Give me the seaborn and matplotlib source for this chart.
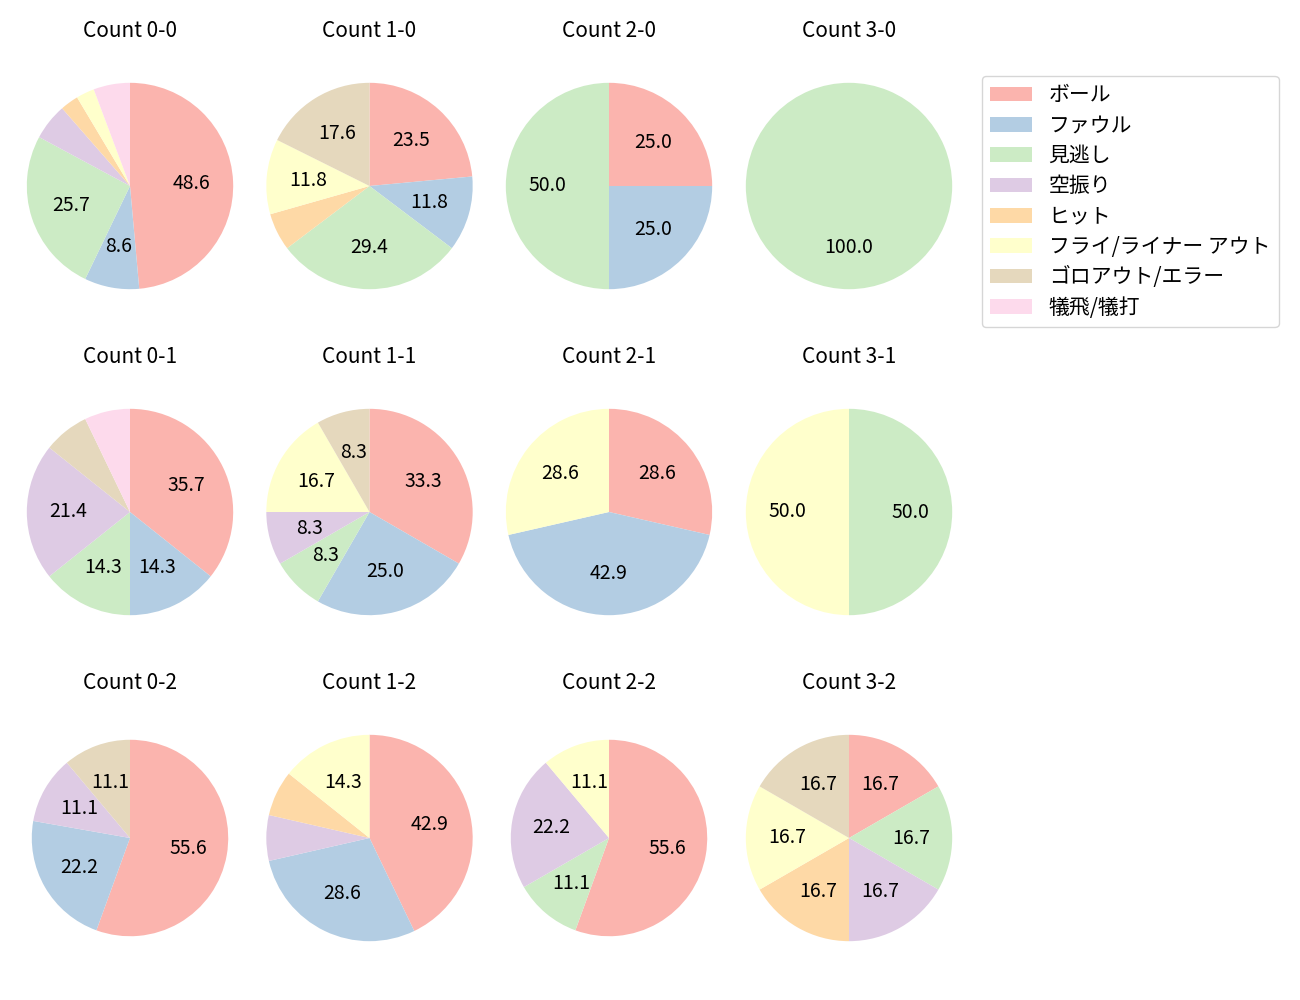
import matplotlib
matplotlib.use("Agg")
import matplotlib.pyplot as plt
from matplotlib.patches import Patch
import seaborn as sns
import numpy as np

categories = ["ボール", "ファウル", "見逃し", "空振り", "ヒット",
              "フライ/ライナー アウト", "ゴロアウト/エラー", "犠飛/犠打"]

titles = ["Count 0-0", "Count 1-0", "Count 2-0", "Count 3-0",
          "Count 0-1", "Count 1-1", "Count 2-1", "Count 3-1",
          "Count 0-2", "Count 1-2", "Count 2-2", "Count 3-2"]

# pitch counts per category (order = categories)
count_0_0 = [17, 3, 9, 2, 1, 1, 0, 2]
count_1_0 = [4, 2, 5, 0, 1, 2, 3, 0]
count_2_0 = [1, 1, 2, 0, 0, 0, 0, 0]
count_3_0 = [0, 0, 1, 0, 0, 0, 0, 0]
count_0_1 = [5, 2, 2, 3, 0, 0, 1, 1]
count_1_1 = [4, 3, 1, 1, 0, 2, 1, 0]
count_2_1 = [2, 3, 0, 0, 0, 2, 0, 0]
count_3_1 = [0, 0, 1, 0, 0, 1, 0, 0]
count_0_2 = [5, 2, 0, 1, 0, 0, 1, 0]
count_1_2 = [6, 4, 0, 1, 1, 2, 0, 0]
count_2_2 = [5, 0, 1, 2, 0, 1, 0, 0]
count_3_2 = [1, 0, 1, 1, 1, 1, 1, 0]

all_counts = [count_0_0, count_1_0, count_2_0, count_3_0,
              count_0_1, count_1_1, count_2_1, count_3_1,
              count_0_2, count_1_2, count_2_2, count_3_2]

radii = [1, 1, 1, 1, 1, 1, 1, 1, 0.952, 1, 0.952, 1]

sns.set_theme(style="white")
plt.rcParams["font.family"] = ["Noto Sans CJK JP", "DejaVu Sans"]
plt.rcParams["text.color"] = "black"

colors = sns.color_palette("Pastel1", 8)

W, H = 1300, 1000
fig = plt.figure(figsize=(13, 10), dpi=100)
fig.patch.set_facecolor("white")

col_cx = [130, 369.5, 609, 849]
row_cy = [186, 512, 838]
ax_w, ax_h = 227, 282
xl = 1.1

def autopct(p):
    return f"{p:.1f}" if p >= 8 else ""

for i, vals in enumerate(all_counts):
    r, c = divmod(i, 4)
    cx, cy = col_cx[c], row_cy[r]
    ax = fig.add_axes([(cx - ax_w / 2) / W, 1 - (cy + ax_h / 2) / H, ax_w / W, ax_h / H])
    v = np.array(vals, dtype=float)
    ax.pie(v, colors=colors, startangle=90, counterclock=False,
           autopct=autopct, radius=radii[i],
           wedgeprops={"linewidth": 0, "edgecolor": "none"},
           textprops={"fontsize": 14, "color": "black"})
    ax.set_aspect("auto")
    ax.set_xlim(-xl, xl)
    ax.set_ylim(-xl * ax_h / ax_w, xl * ax_h / ax_w)
    ax.set_title(titles[i], fontsize=15, pad=5.5, color="black")

handles = [Patch(facecolor=colors[k], edgecolor="none", label=categories[k]) for k in range(8)]
fig.legend(handles=handles, loc="upper left", bbox_to_anchor=(982 / W, 1 - 76 / H),
           fontsize=15, frameon=True, borderaxespad=0, handlelength=2.0,
           handletextpad=0.8, labelspacing=0.4, edgecolor="#cccccc")

fig.savefig("out.png", dpi=100, facecolor="white")
